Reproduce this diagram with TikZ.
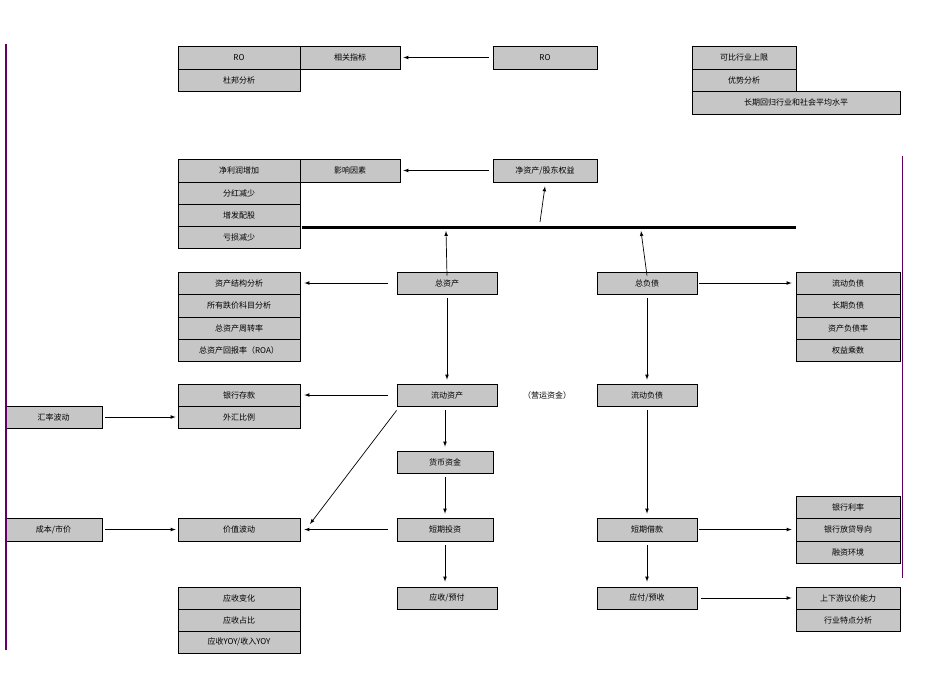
\documentclass[tikz,border=0pt]{standalone}
\usepackage{fontspec}
\newfontfamily\cjk{Noto Sans CJK SC}
\begin{document}
\begin{tikzpicture}[x=1pt,y=-1pt,
  bx/.style={draw=black,fill=gray!45,line width=0.8pt,inner sep=0pt,font=\cjk\fontsize{8}{9}\selectfont},
  ar/.style={-latex,line width=0.7pt}]
\useasboundingbox (0,0) rectangle (950,672);
\newcommand\bx[6]{\node[bx,minimum width={#4-#2},minimum height={#5-#3}] (#1) at ({(#2+#4)/2},{(#3+#5)/2}) {#6};}
\bx{ro}{178}{46}{300}{69}{RO}
\bx{xg}{300}{46}{400}{69}{相关指标}
\bx{db}{178}{69}{300}{91}{杜邦分析}
\bx{ror}{493}{46}{597}{69}{RO}
\bx{kb}{692}{46}{796}{69}{可比行业上限}
\bx{ys}{692}{69}{796}{91}{优势分析}
\bx{cq}{692}{91}{900}{114}{长期回归行业和社会平均水平}
\bx{jl}{178}{159}{300}{182}{净利润增加}
\bx{yx}{300}{159}{400}{182}{影响因素}
\bx{fh}{178}{182}{300}{204}{分红减少}
\bx{zf}{178}{204}{300}{226}{增发配股}
\bx{ks}{178}{226}{300}{248}{亏损减少}
\bx{jz}{493}{159}{597}{182}{净资产/股东权益}
\bx{zz}{397}{272}{497}{294}{总资产}
\bx{zfz}{597}{272}{697}{294}{总负债}
\bx{l1}{178}{272}{300}{294}{资产结构分析}
\bx{l2}{178}{294}{300}{317}{所有跌价科目分析}
\bx{l3}{178}{317}{300}{339}{总资产周转率}
\bx{l4}{178}{339}{300}{361}{总资产回报率（ROA）}
\bx{r1}{796}{272}{900}{294}{流动负债}
\bx{r2}{796}{294}{900}{317}{长期负债}
\bx{r3}{796}{317}{900}{339}{资产负债率}
\bx{r4}{796}{339}{900}{361}{权益乘数}
\bx{ldz}{397}{384}{497}{406}{流动资产}
\bx{ldf}{597}{384}{697}{406}{流动负债}
\node[font=\cjk\fontsize{8}{9}\selectfont] (yy) at (547,395) {（营运资金）};
\bx{yh}{178}{384}{300}{406}{银行存款}
\bx{wh}{178}{406}{300}{428}{外汇比例}
\bx{hl}{5}{406}{102}{428}{汇率波动}
\bx{hb}{397}{451}{493}{473}{货币资金}
\bx{dt}{397}{518}{493}{541}{短期投资}
\bx{jb}{178}{518}{300}{541}{价值波动}
\bx{cb}{5}{518}{102}{541}{成本/市价}
\bx{ys2}{397}{587}{497}{609}{应收/预付}
\bx{dj}{597}{518}{697}{541}{短期借款}
\bx{b1}{796}{496}{900}{518}{银行利率}
\bx{b2}{796}{518}{900}{541}{银行放贷导向}
\bx{b3}{796}{541}{900}{563}{融资环境}
\bx{yf}{597}{587}{697}{609}{应付/预收}
\bx{s1}{796}{587}{900}{609}{上下游议价能力}
\bx{s2}{796}{609}{900}{631}{行业特点分析}
\bx{a1}{178}{587}{300}{609}{应收变化}
\bx{a2}{178}{609}{300}{631}{应收占比}
\bx{a3}{178}{631}{300}{653}{应收YOY/收入YOY}
% thick bar
\coordinate (barL) at (302,227); \coordinate (barR) at (796,227);
\draw[line width=3pt] (barL) -- (barR);
% arrows
\draw[ar] (ror.west)++(-4,0) -- ([xshift=3pt]xg.east);
\draw[ar] (jz.west)++(-4,0) -- ([xshift=3pt]yx.east);
\draw[ar] (540,222) -- ([yshift=-4pt]jz.south);
\draw[ar] ([yshift=-4pt]zz.north) -- (446,231);
\draw[ar] ([yshift=-4pt]zfz.north) -- (641,231);
\draw[ar] ([xshift=-9pt]zz.west) -- ([xshift=4pt]l1.east);
\draw[ar] ([xshift=2pt]zfz.east) -- ([xshift=-4pt]r1.west);
\draw[ar] ([yshift=-4pt]zz.south) -- ([yshift=4pt]ldz.north);
\draw[ar] ([yshift=-4pt]zfz.south) -- ([yshift=4pt]ldf.north);
\draw[ar] ([xshift=-9pt]ldz.west) -- ([xshift=4pt]yh.east);
\draw[ar] ([xshift=3pt]hl.east) -- ([xshift=-2pt]wh.west);
\draw[ar] ([yshift=-4pt]ldz.south -| hb.north) -- ([yshift=4pt]hb.north);
\draw[ar] ([yshift=-4pt]hb.south) -- ([yshift=4pt]dt.north);
\draw[ar] ([xshift=-9pt]dt.west) -- ([xshift=4pt]jb.east);
\draw[ar] ([shift={(0pt,-4pt)}]ldz.south west) -- (310,524);
\draw[ar] ([xshift=3pt]cb.east) -- ([xshift=-2pt]jb.west);
\draw[ar] ([yshift=-4pt]dt.south) -- ([yshift=5pt]ys2.north -| dt.south);
\draw[ar] ([yshift=-4pt]ldf.south) -- ([yshift=4pt]dj.north);
\draw[ar] ([xshift=2pt]dj.east) -- ([xshift=-4pt]b2.west);
\draw[ar] ([yshift=-4pt]dj.south) -- ([yshift=5pt]yf.north);
\draw[ar] ([xshift=4pt]yf.east) -- ([xshift=-4pt]s1.west);
% side lines
\draw[line width=2pt,draw={rgb,255:red,100;green,0;blue,100}] (6,44) -- (6,650);
\draw[line width=0.6pt,draw={rgb,255:red,100;green,0;blue,100}] (902,156) -- (902,578);
\end{tikzpicture}
\end{document}
